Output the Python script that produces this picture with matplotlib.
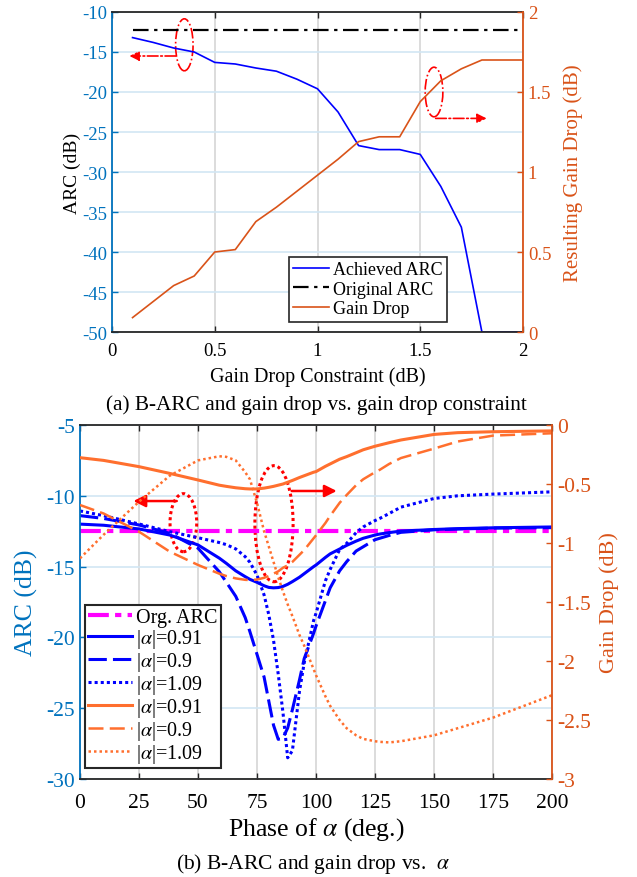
import numpy as np
import matplotlib
matplotlib.use("Agg")
from matplotlib import pyplot as plt
from matplotlib.patches import Ellipse

plt.rcParams['font.family'] = ['Liberation Serif', 'DejaVu Serif']
plt.rcParams['mathtext.fontset'] = 'stix'
plt.rcParams['axes.unicode_minus'] = False

# ---- (a) data ----
constraint = [0.1, 0.2, 0.3, 0.4, 0.5, 0.6, 0.7, 0.8, 0.9, 1.0,
              1.1, 1.2, 1.3, 1.4, 1.5, 1.6, 1.7, 1.8, 1.9, 2.0]
achieved_arc = [-13.2, -13.8, -14.5, -15.0, -16.3, -16.5, -17.0, -17.4, -18.4, -19.6,
                -22.5, -26.7, -27.2, -27.2, -27.8, -31.8, -36.9, -50.0, -50.0, -50.0]
original_arc = [-12.3] * len(constraint)
gain_drop = [0.09, 0.19, 0.29, 0.35, 0.50, 0.515, 0.69, 0.78, 0.88, 0.98,
             1.08, 1.19, 1.22, 1.22, 1.44, 1.57, 1.645, 1.70, 1.70, 1.70]
a_xticks = [0, 0.5, 1, 1.5, 2]
a_xticklabels = ['0', '0.5', '1', '1.5', '2']
a_lticks = [-50, -45, -40, -35, -30, -25, -20, -15, -10]
a_rticks = [0, 0.5, 1, 1.5, 2]
a_rticklabels = ['0', '0.5', '1', '1.5', '2']

# ---- (b) data ----
phase = [0, 10, 25, 38, 50, 59, 62, 66, 70, 72, 75, 78, 80, 82, 84, 86, 88, 90,
         93, 95, 99, 100, 104, 106, 110, 113, 117, 120, 125, 127, 131, 136,
         150, 160, 175, 200]
org_arc = [-12.48] * len(phase)
arc_091 = [-12.0, -12.08, -12.34, -12.77, -13.47, -14.4, -14.77, -15.3, -15.71, -15.9,
           -16.11, -16.35, -16.47, -16.5, -16.48, -16.4, -16.25, -16.06,
           -15.75, -15.5, -15.0, -14.89, -14.35, -14.1, -13.76, -13.5, -13.2, -13.0,
           -12.77, -12.7, -12.6, -12.49, -12.38, -12.32, -12.26, -12.2]
arc_090 = [-11.4, -11.6, -12.06, -12.65, -13.7, -15.36, -16.1, -17.1, -18.6, -19.6,
           -21.2, -22.8, -24.5, -26.2, -27.2, -27.1, -26.4, -25.1,
           -23.0, -21.5, -19.7, -19.2, -17.4, -16.5, -15.3, -14.65, -13.9, -13.6,
           -13.1, -13.0, -12.8, -12.58, -12.4, -12.35, -12.28, -12.25]
arc_109 = [-11.07, -11.4, -11.99, -12.53, -12.96, -13.3, -13.45, -13.75, -14.3, -14.7,
           -15.6, -17.0, -18.4, -20.2, -22.6, -25.3, -28.5, -28.0,
           -23.8, -21.8, -18.8, -18.3, -16.0, -15.2, -13.8, -13.36, -12.6, -12.2,
           -11.75, -11.6, -11.25, -10.8, -10.19, -10.0, -9.88, -9.72]
gd_091 = [-0.277, -0.30, -0.353, -0.41, -0.466, -0.51, -0.52, -0.532, -0.54, -0.542,
          -0.542, -0.535, -0.528, -0.52, -0.51, -0.50, -0.485, -0.47,
          -0.445, -0.43, -0.40, -0.395, -0.35, -0.33, -0.29, -0.268, -0.235, -0.21,
          -0.18, -0.17, -0.15, -0.127, -0.08, -0.065, -0.057, -0.05]
gd_090 = [-0.678, -0.75, -0.904, -1.073, -1.186, -1.26, -1.28, -1.30, -1.312, -1.314,
          -1.31, -1.295, -1.28, -1.26, -1.24, -1.21, -1.19, -1.16,
          -1.10, -1.06, -0.96, -0.935, -0.83, -0.77, -0.66, -0.593, -0.51, -0.46,
          -0.40, -0.38, -0.33, -0.28, -0.20, -0.14, -0.09, -0.07]
gd_109 = [-1.13, -0.93, -0.65, -0.43, -0.30, -0.265, -0.27, -0.30, -0.40, -0.46,
          -0.66, -0.90, -1.03, -1.16, -1.29, -1.41, -1.52, -1.62,
          -1.78, -1.87, -2.07, -2.12, -2.30, -2.38, -2.50, -2.57, -2.63, -2.66,
          -2.68, -2.685, -2.69, -2.68, -2.63, -2.57, -2.48, -2.29]
b_xticks = [0, 25, 50, 75, 100, 125, 150, 175, 200]
b_lticks = [-30, -25, -20, -15, -10, -5]
b_rticks = [-3, -2.5, -2, -1.5, -1, -0.5, 0]
b_rticklabels = ['-3', '-2.5', '-2', '-1.5', '-1', '-0.5', '0']
b_labels = ['Org. ARC', r'|$\alpha$|=0.91', r'|$\alpha$|=0.9', r'|$\alpha$|=1.09',
            r'|$\alpha$|=0.91', r'|$\alpha$|=0.9', r'|$\alpha$|=1.09']

ax_blue = '#0072BD'
ax_orange = '#D95319'
line_orange = '#FF6F2E'
dark = '#262626'
W, H = 637, 878


def style_axes(ax, axr, fs, xpad):
    for s in ['top', 'bottom']:
        ax.spines[s].set_color(dark)
        ax.spines[s].set_linewidth(1.3)
        axr.spines[s].set_visible(False)
    ax.spines['left'].set_color(ax_blue)
    ax.spines['left'].set_linewidth(1.3)
    ax.spines['right'].set_visible(False)
    axr.spines['left'].set_visible(False)
    axr.spines['right'].set_color(ax_orange)
    axr.spines['right'].set_linewidth(1.3)
    ax.tick_params(axis='x', direction='in', top=True, colors='black', labelsize=fs,
                   length=4, width=1, pad=xpad)
    ax.tick_params(axis='x', color=dark)
    ax.tick_params(axis='y', direction='in', colors=ax_blue, labelsize=fs, length=4, width=1)
    axr.tick_params(axis='y', direction='in', colors=ax_orange, labelsize=fs, length=4, width=1)
    ax.set_axisbelow(True)
    ax.xaxis.grid(True, color='#d6d6d6', lw=1.2)
    ax.yaxis.grid(True, color='#d2e6f4', lw=1.2)


fig = plt.figure(figsize=(W / 100, H / 100), dpi=100)

# ================= (a) =================
ax1 = fig.add_axes([112 / W, 1 - 333 / H, 411 / W, 320 / H])
ax1r = ax1.twinx()
style_axes(ax1, ax1r, 13.5, 7)

l1, = ax1.plot(constraint, achieved_arc, color='#0000FF', lw=1.2, label='Achieved ARC')
l2, = ax1.plot(constraint, original_arc, color='black', lw=1.6, ls=(0, (7, 2.5, 1.5, 2.5)),
               label='Original ARC')
l3, = ax1r.plot(constraint, gain_drop, color=ax_orange, lw=1.2, label='Gain Drop')

ax1.set_xlim(0, 2)
ax1.set_ylim(-50, -10)
ax1r.set_ylim(0, 2)
ax1.set_xticks(a_xticks, a_xticklabels)
ax1.set_yticks(a_lticks, [str(v) for v in a_lticks])
ax1r.set_yticks(a_rticks, a_rticklabels)

ax1.set_xlabel('Gain Drop Constraint (dB)', fontsize=14.5, va='center')
ax1.xaxis.set_label_coords(0.5, (333 - 377) / 320)
ax1.set_ylabel('ARC (dB)', fontsize=14, color='black', va='center')
ax1.yaxis.set_label_coords((72 - 112) / 411, 0.5)
ax1r.set_ylabel('Resulting Gain Drop (dB)', fontsize=15, color=ax_orange,
                va='center', rotation=90)
ax1r.yaxis.set_label_coords((573 - 112) / 411, 0.5)

# annotations (a)
ax1.add_patch(Ellipse((0.352, -14.1), 0.085, 6.5, fill=False, ec='red', lw=1.2, ls='-.'))
ax1.annotate('', xy=(0.085, -15.5), xytext=(0.31, -15.5),
             arrowprops=dict(arrowstyle='-|>', color='red', lw=1.2, ls='-.',
                             mutation_scale=14, shrinkA=0, shrinkB=0))
ax1.add_patch(Ellipse((1.567, -20.0), 0.086, 6.2, fill=False, ec='red', lw=1.2, ls='-.'))
ax1.annotate('', xy=(1.823, -23.3), xytext=(1.575, -23.3),
             arrowprops=dict(arrowstyle='-|>', color='red', lw=1.2, ls='-.',
                             mutation_scale=14, shrinkA=0, shrinkB=0))

leg1 = ax1r.legend(handles=[l1, l2, l3], loc='lower right',
                   bbox_to_anchor=((447 - 112) / 411, (333 - 323) / 320),
                   fontsize=13, frameon=True, fancybox=False, edgecolor=dark,
                   framealpha=1, borderpad=0.25, labelspacing=0.15, handlelength=2.0,
                   handletextpad=0.2, borderaxespad=0)
leg1.get_frame().set_linewidth(1.2)

fig.text(316 / W, 1 - 405 / H, '(a) B-ARC and gain drop vs. gain drop constraint',
         ha='center', va='center', fontsize=15.3)

# ================= (b) =================
ax2 = fig.add_axes([80 / W, 1 - 780 / H, 472 / W, 354 / H])
ax2r = ax2.twinx()
style_axes(ax2, ax2r, 15.5, 10)

m0, = ax2.plot(phase, org_arc, color='#FF00FF', lw=3.0, ls=(0, (5, 1.5, 1.5, 1.5)))
b1, = ax2.plot(phase, arc_091, color='#0000FF', lw=2.2, ls='-')
b2, = ax2.plot(phase, arc_090, color='#0000FF', lw=2.2, ls=(0, (6, 2)))
b3, = ax2.plot(phase, arc_109, color='#0000FF', lw=2.2, ls=(0, (1, 1)))
o1, = ax2r.plot(phase, gd_091, color=line_orange, lw=2.2, ls='-')
o2, = ax2r.plot(phase, gd_090, color=line_orange, lw=1.8, ls=(0, (6, 2.5)))
o3, = ax2r.plot(phase, gd_109, color=line_orange, lw=1.8, ls=(0, (1, 1.2)))

ax2.set_xlim(0, 200)
ax2.set_ylim(-30, -5)
ax2r.set_ylim(-3, 0)
ax2.set_xticks(b_xticks, [str(v) for v in b_xticks])
ax2.set_yticks(b_lticks, [str(v) for v in b_lticks])
ax2r.set_yticks(b_rticks, b_rticklabels)

ax2.set_xlabel(r'Phase of $\alpha$ (deg.)', fontsize=18.5, va='center')
ax2.xaxis.set_label_coords(0.5, (780 - 830) / 354)
ax2.set_ylabel('ARC (dB)', fontsize=18.5, color=ax_blue, va='center')
ax2.yaxis.set_label_coords((26 - 80) / 472, 0.5)
ax2r.set_ylabel('Gain Drop (dB)', fontsize=16, color=ax_orange, va='center', rotation=90)
ax2r.yaxis.set_label_coords((609 - 80) / 472, 0.5)

# annotations (b)
ax2.add_patch(Ellipse((43.8, -11.9), 11.3, 4.1, fill=False, ec='red', lw=2.2, ls=(0, (1, 1))))
ax2.annotate('', xy=(22.6, -10.37), xytext=(41, -10.37),
             arrowprops=dict(arrowstyle='-|>', color='red', lw=1.8,
                             mutation_scale=18, shrinkA=0, shrinkB=0))
ax2.add_patch(Ellipse((82.2, -11.97), 16.2, 8.2, fill=False, ec='red', lw=2.2, ls=(0, (1, 1))))
ax2.annotate('', xy=(108.8, -9.66), xytext=(89.7, -9.66),
             arrowprops=dict(arrowstyle='-|>', color='red', lw=1.8,
                             mutation_scale=18, shrinkA=0, shrinkB=0))

leg2 = ax2r.legend(handles=[m0, b1, b2, b3, o1, o2, o3], labels=b_labels, loc='lower left',
                   bbox_to_anchor=((85 - 80) / 472, (780 - 769) / 354),
                   fontsize=14.5, frameon=True, fancybox=False, edgecolor=dark,
                   framealpha=1, borderpad=0.15, labelspacing=0.0, handlelength=2.2,
                   handletextpad=0.2, borderaxespad=0)
leg2.get_frame().set_linewidth(1.5)

fig.text(313 / W, 1 - 864 / H, r'(b) B-ARC and gain drop vs.  $\alpha$',
         ha='center', va='center', fontsize=15.5)

fig.savefig('out.png', dpi=100)
